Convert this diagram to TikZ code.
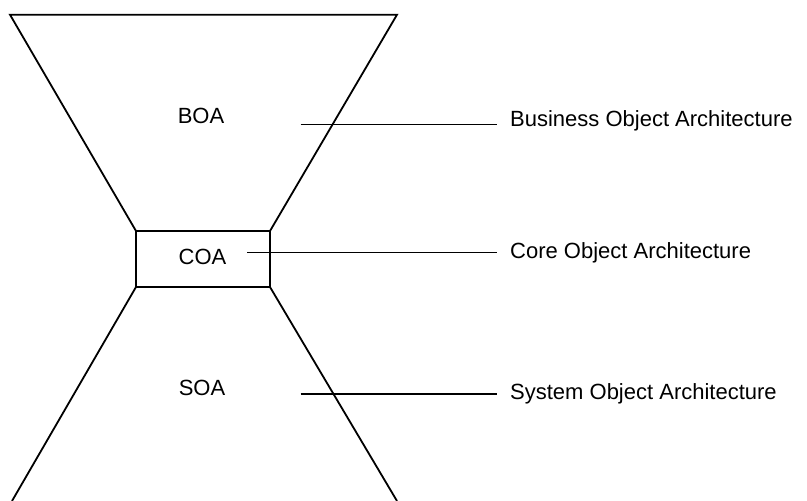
\documentclass[tikz,border=0pt]{standalone}
\usepackage{fontspec}
\setmainfont{Liberation Sans}
\begin{document}
\begin{tikzpicture}[x=1pt,y=-1pt,
  funnel/.style={line width=1.8pt,line join=miter},
  box/.style={draw,line width=1.5pt,minimum width=134pt,minimum height=56pt,inner sep=0pt},
  lbl/.style={inner sep=0pt,font=\fontsize{22}{26}\selectfont},
  side/.style={inner xsep=13pt,inner ysep=0pt,anchor=base west,font=\fontsize{22}{26}\selectfont},
  conn/.style={line width=1.3pt}]
\useasboundingbox (0,0) rectangle (807,501);
% funnel outline
\draw[funnel] (136,231) -- (10,14.7) -- (397,14.7) -- (270,231);
\draw[funnel] (136,287) -- (12,501);
\draw[funnel] (270,287) -- (397,501);
% core box
\node[box] (coa) at (203,259) {};
% inner labels
\node[lbl,anchor=base] (boat) at (201,123.3) {BOA};
\node[lbl,anchor=base] (coat) at (202.5,264.3) {COA};
\node[lbl,anchor=base] (soat) at (202,395.5) {SOA};
% side labels
\node[side] (bl) at (497,126.7) {Business Object Architecture};
\node[side] (cl) at (497,258.3) {Core Object Architecture};
\node[side] (sl) at (497,399.3) {System Object Architecture};
% connector start points
\coordinate (b1) at (300.7,124.3);
\coordinate (c1) at (247,252.3);
\coordinate (s1) at (300.7,394);
\draw[conn] (b1) -- (b1 -| bl.west);
\draw[conn] (c1) -- (c1 -| cl.west);
\draw[conn] (s1) -- (s1 -| sl.west);
\end{tikzpicture}
\end{document}
